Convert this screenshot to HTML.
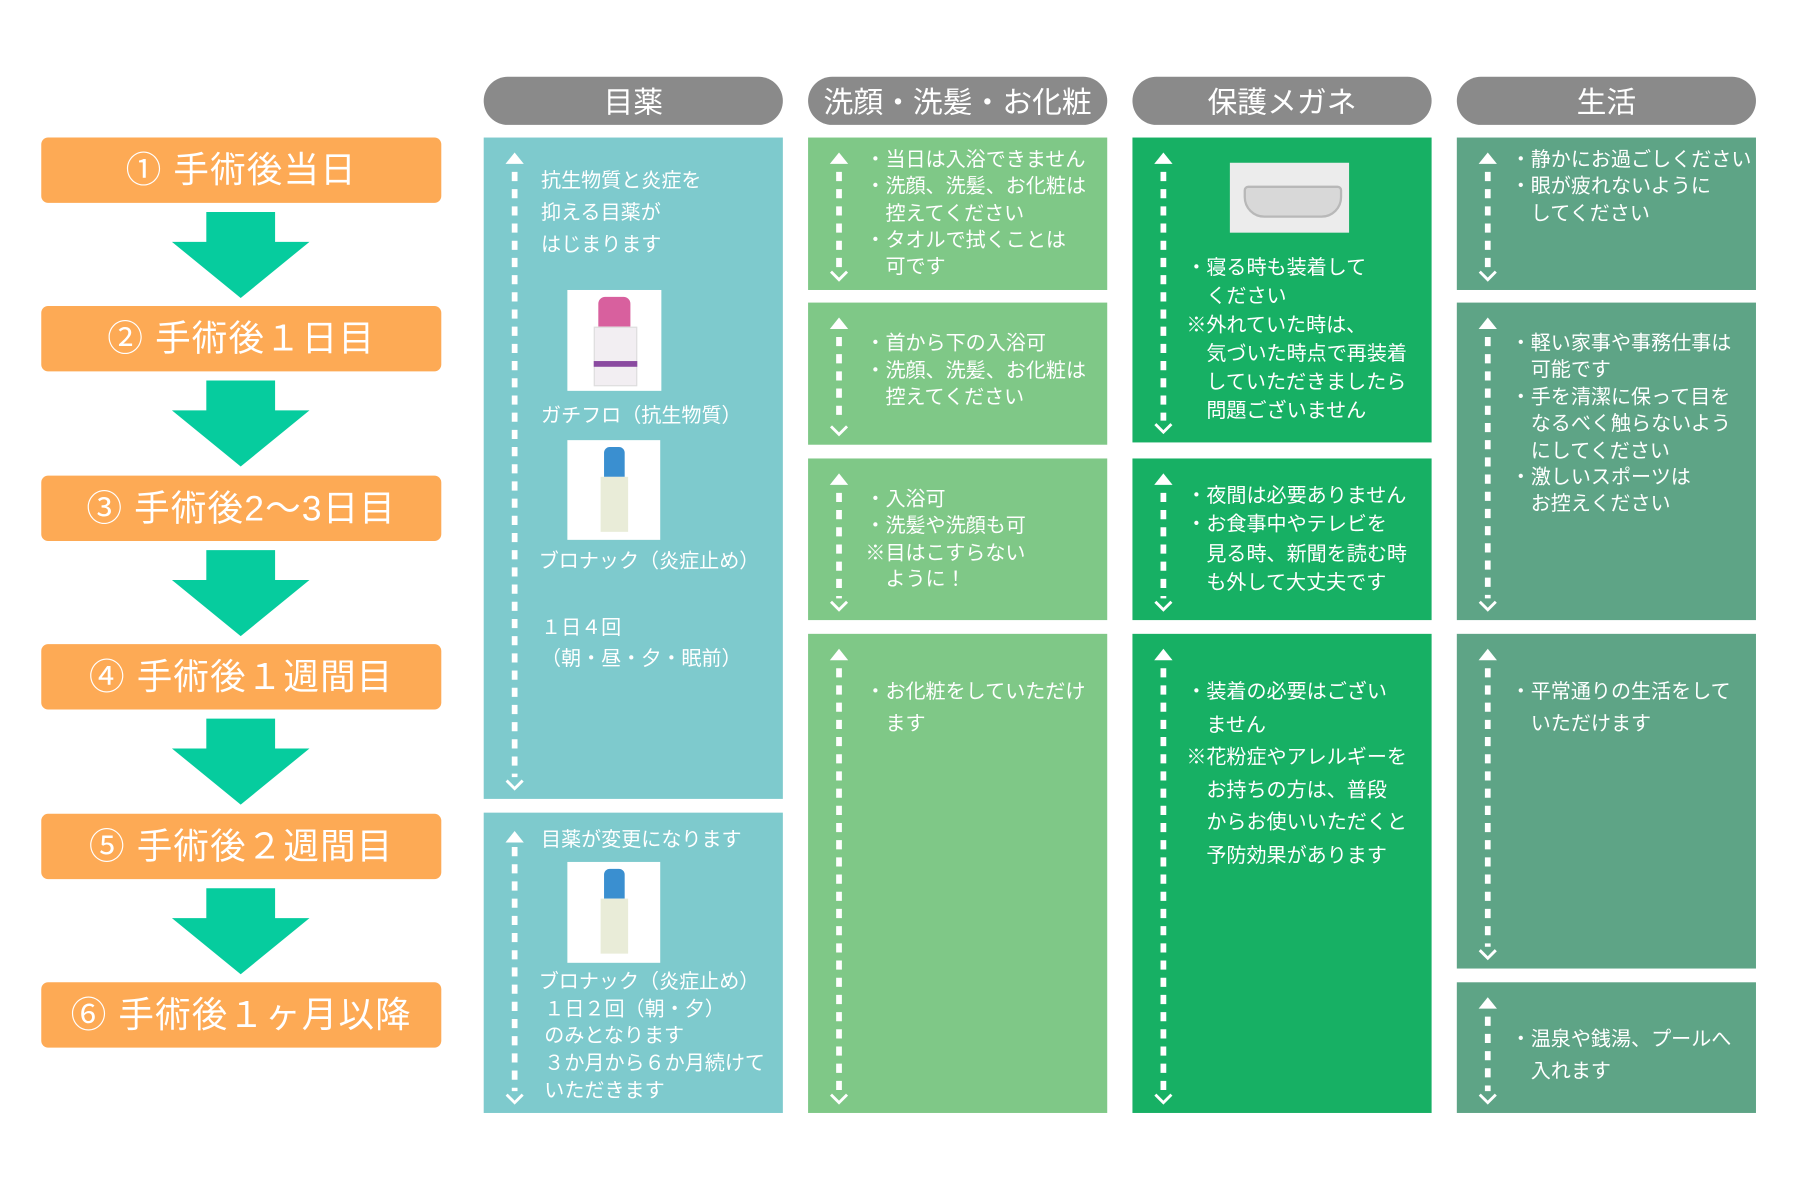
<!DOCTYPE html>
<html><head><meta charset="utf-8"><style>
html,body{margin:0;padding:0;background:#fff;width:1797px;height:1179px;overflow:hidden}
#s{position:absolute;left:0;top:0;width:1570px;height:1030px;transform:scale(1.1462);transform-origin:0 0;font-family:"Liberation Sans","Noto Sans CJK JP",sans-serif;color:#fff}
.a{position:absolute}
.pill{position:absolute;top:67px;height:42px;width:261px;border-radius:21px;background:#8a8a8a;font-size:26px;line-height:44px;text-align:center}
.or{position:absolute;left:36px;width:349px;height:57px;background:#fdaa55;border-radius:6px;font-size:31px;line-height:58px;text-align:center;letter-spacing:1px}
.b{position:absolute}
.c1{background:#7ecacd}.c2{background:#7fc887}.c3{background:#17b064}.c4{background:#5ea486}
.t{position:absolute;font-size:17.5px;white-space:nowrap}
.img{position:absolute;background:#fff}
</style></head><body><div id="s">
<div class="pill" style="left:422px">目薬</div>
<div class="pill" style="left:705px">洗顔・洗髪・お化粧</div>
<div class="pill" style="left:988px">保護メガネ</div>
<div class="pill" style="left:1271px">生活</div>

<div class="or" style="top:120px">① 手術後当日</div>
<div class="or" style="top:267px">② 手術後１日目</div>
<div class="or" style="top:415px">③ 手術後2〜3日目</div>
<div class="or" style="top:562px">④ 手術後１週間目</div>
<div class="or" style="top:710px">⑤ 手術後２週間目</div>
<div class="or" style="top:857px">⑥ 手術後１ヶ月以降</div>

<div class="b c1" style="left:422px;top:120px;width:261px;height:577px"></div>
<div class="b c1" style="left:422px;top:709px;width:261px;height:262px"></div>
<div class="b c2" style="left:705px;top:120px;width:261px;height:133px"></div>
<div class="b c2" style="left:705px;top:264px;width:261px;height:124px"></div>
<div class="b c2" style="left:705px;top:400px;width:261px;height:141px"></div>
<div class="b c2" style="left:705px;top:553px;width:261px;height:418px"></div>
<div class="b c3" style="left:988px;top:120px;width:261px;height:266px"></div>
<div class="b c3" style="left:988px;top:400px;width:261px;height:141px"></div>
<div class="b c3" style="left:988px;top:553px;width:261px;height:418px"></div>
<div class="b c4" style="left:1271px;top:120px;width:261px;height:133px"></div>
<div class="b c4" style="left:1271px;top:264px;width:261px;height:277px"></div>
<div class="b c4" style="left:1271px;top:553px;width:261px;height:292px"></div>
<div class="b c4" style="left:1271px;top:857px;width:261px;height:114px"></div>

<svg class="a" style="left:0;top:0" width="1570" height="1030">
<g fill="#06cc9e">
<polygon points="180,185 240,185 240,211 270,211 210,260 150,211 180,211"/>
<polygon points="180,332 240,332 240,358 270,358 210,407 150,358 180,358"/>
<polygon points="180,480 240,480 240,506 270,506 210,555 150,506 180,506"/>
<polygon points="180,627 240,627 240,653 270,653 210,702 150,653 180,653"/>
<polygon points="180,775 240,775 240,801 270,801 210,850 150,801 180,801"/>
</g>
<g stroke="#fff" fill="none" stroke-width="5" stroke-dasharray="8 7">
<line x1="449" y1="150" x2="449" y2="678"/>
<line x1="449" y1="739" x2="449" y2="952"/>
<line x1="732" y1="150" x2="732" y2="234"/>
<line x1="732" y1="294" x2="732" y2="369"/>
<line x1="732" y1="430" x2="732" y2="522"/>
<line x1="732" y1="583" x2="732" y2="952"/>
<line x1="1015" y1="150" x2="1015" y2="367"/>
<line x1="1015" y1="430" x2="1015" y2="522"/>
<line x1="1015" y1="583" x2="1015" y2="952"/>
<line x1="1298" y1="150" x2="1298" y2="234"/>
<line x1="1298" y1="294" x2="1298" y2="522"/>
<line x1="1298" y1="583" x2="1298" y2="826"/>
<line x1="1298" y1="887" x2="1298" y2="952"/>
</g>
<g fill="#fff">
<polygon points="441,143 449,133 457,143"/><polygon points="441,735 449,725 457,735"/>
<polygon points="724,143 732,133 740,143"/><polygon points="724,287 732,277 740,287"/><polygon points="724,423 732,413 740,423"/><polygon points="724,576 732,566 740,576"/>
<polygon points="1007,143 1015,133 1023,143"/><polygon points="1007,423 1015,413 1023,423"/><polygon points="1007,576 1015,566 1023,576"/>
<polygon points="1290,143 1298,133 1306,143"/><polygon points="1290,287 1298,277 1306,287"/><polygon points="1290,576 1298,566 1306,576"/><polygon points="1290,880 1298,870 1306,880"/>
</g>
<g stroke="#fff" fill="none" stroke-width="2.5">
<polyline points="442,681 449,688 456,681"/><polyline points="442,955 449,962 456,955"/>
<polyline points="725,237 732,244 739,237"/><polyline points="725,372 732,379 739,372"/><polyline points="725,525 732,532 739,525"/><polyline points="725,955 732,962 739,955"/>
<polyline points="1008,370 1015,377 1022,370"/><polyline points="1008,525 1015,532 1022,525"/><polyline points="1008,955 1015,962 1022,955"/>
<polyline points="1291,237 1298,244 1305,237"/><polyline points="1291,525 1298,532 1305,525"/><polyline points="1291,829 1298,836 1305,829"/><polyline points="1291,955 1298,962 1305,955"/>
</g>
</svg>

<div class="img" style="left:495px;top:253px;width:82px;height:88px">
<div class="a" style="left:27px;top:6px;width:28px;height:26px;background:#d8609e;border-radius:6px 6px 0 0"></div>
<div class="a" style="left:23px;top:32px;width:36px;height:50px;background:#f2eef2;border:1px solid #ddd"></div>
<div class="a" style="left:23px;top:62px;width:38px;height:5px;background:#8a4aa0"></div>
</div>
<div class="img" style="left:495px;top:384px;width:81px;height:87px">
<div class="a" style="left:32px;top:6px;width:18px;height:26px;background:#3a8fd0;border-radius:5px 5px 0 0"></div>
<div class="a" style="left:29px;top:32px;width:24px;height:48px;background:#e9ecd8"></div>
</div>
<div class="img" style="left:495px;top:752px;width:81px;height:88px">
<div class="a" style="left:32px;top:6px;width:18px;height:26px;background:#3a8fd0;border-radius:5px 5px 0 0"></div>
<div class="a" style="left:29px;top:32px;width:24px;height:48px;background:#e9ecd8"></div>
</div>
<div class="img" style="left:1073px;top:142px;width:104px;height:61px;background:#ececec">
<div class="a" style="left:12px;top:20px;width:82px;height:24px;border:2px solid #b8b8b8;border-radius:4px 4px 18px 18px;background:#d8d8d8"></div>
</div>

<div class="t" style="left:472px;top:143px;line-height:28px">抗生物質と炎症を<br>抑える目薬が<br>はじまります</div>
<div class="t" style="left:472px;top:349px;line-height:26px">ガチフロ（抗生物質）</div>
<div class="t" style="left:470px;top:476px;line-height:26px">ブロナック（炎症止め）</div>
<div class="t" style="left:472px;top:534px;line-height:27px">１日４回<br>（朝・昼・夕・眠前）</div>
<div class="t" style="left:472px;top:719px;line-height:26px">目薬が変更になります</div>
<div class="t" style="left:470px;top:845px;line-height:23.7px">ブロナック（炎症止め）<br>&nbsp;１日２回（朝・夕）<br>&nbsp;のみとなります<br>&nbsp;３か月から６か月続けて<br>&nbsp;いただきます</div>

<div class="t" style="left:755px;top:128px;line-height:23.3px">・当日は入浴できません<br>・洗顔、洗髪、お化粧は<br>　控えてください<br>・タオルで拭くことは<br>　可です</div>
<div class="t" style="left:755px;top:288px;line-height:23.5px">・首から下の入浴可<br>・洗顔、洗髪、お化粧は<br>　控えてください</div>
<div class="t" style="left:755px;top:424px;line-height:23.4px">・入浴可<br>・洗髪や洗顔も可<br>※目はこすらない<br>　ように！</div>
<div class="t" style="left:755px;top:589px;line-height:28px">・お化粧をしていただけ<br>　ます</div>

<div class="t" style="left:1035px;top:221px;line-height:25px">・寝る時も装着して<br>　ください<br>※外れていた時は、<br>　気づいた時点で再装着<br>　していただきましたら<br>　問題ございません</div>
<div class="t" style="left:1035px;top:420px;line-height:25.3px">・夜間は必要ありません<br>・お食事中やテレビを<br>　見る時、新聞を読む時<br>　も外して大丈夫です</div>
<div class="t" style="left:1035px;top:589px;line-height:28.6px">・装着の必要はござい<br>　ません<br>※花粉症やアレルギーを<br>　お持ちの方は、普段<br>　からお使いいただくと<br>　予防効果があります</div>

<div class="t" style="left:1318px;top:128px;line-height:23.3px">・静かにお過ごしください<br>・眼が疲れないように<br>　してください</div>
<div class="t" style="left:1318px;top:288px;line-height:23.4px">・軽い家事や事務仕事は<br>　可能です<br>・手を清潔に保って目を<br>　なるべく触らないよう<br>　にしてください<br>・激しいスポーツは<br>　お控えください</div>
<div class="t" style="left:1318px;top:589px;line-height:28px">・平常通りの生活をして<br>　いただけます</div>
<div class="t" style="left:1318px;top:892px;line-height:28px">・温泉や銭湯、プールへ<br>　入れます</div>
</div></body></html>
